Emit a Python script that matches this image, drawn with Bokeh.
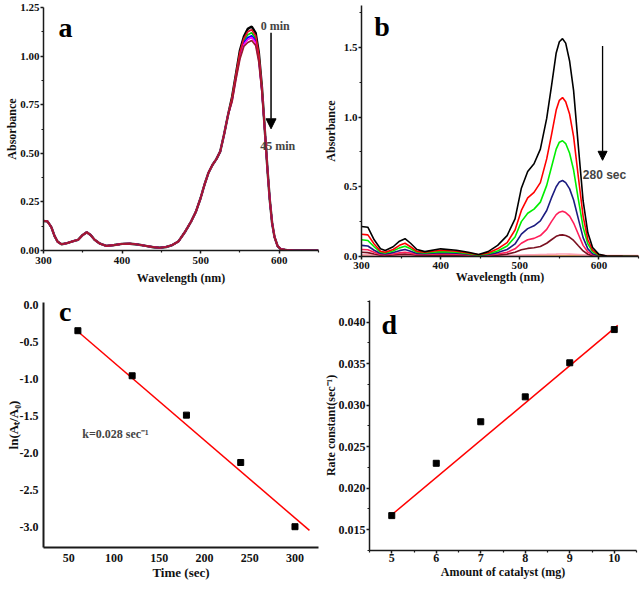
from bokeh.plotting import figure
from bokeh.layouts import column, row
from bokeh.models import FixedTicker, NumeralTickFormatter, Arrow, NormalHead, Range1d, Label
from bokeh.embed import file_html
from bokeh.resources import INLINE

SERIF = "Liberation Serif"

# ---------------- Panel a data ----------------
A_WL_LOW = [300, 305, 310, 314, 318, 323, 330, 338, 344, 350, 355, 360, 365, 372, 380, 390,
            400, 410, 420, 430, 440, 448, 456, 464, 472, 480, 488, 494, 500, 505, 510, 515,
            520, 525, 530, 535]
A_LOW = [0.152, 0.15, 0.12, 0.075, 0.045, 0.032, 0.038, 0.048, 0.055, 0.08, 0.094, 0.08,
         0.055, 0.035, 0.024, 0.028, 0.034, 0.035, 0.031, 0.024, 0.017, 0.014, 0.018, 0.028,
         0.048, 0.095, 0.15, 0.20, 0.27, 0.34, 0.40, 0.44, 0.47, 0.51, 0.60, 0.70]
A_WL_PEAK = [540, 545, 550, 555, 560, 565, 570, 574, 578]
A_PEAK_0 = [0.79, 0.91, 1.03, 1.10, 1.14, 1.152, 1.12, 1.02, 0.84]
A_PEAK_1 = [0.785, 0.905, 1.02, 1.09, 1.125, 1.135, 1.105, 1.01, 0.835]
A_PEAK_2 = [0.78, 0.90, 1.01, 1.08, 1.11, 1.12, 1.09, 1.00, 0.83]
A_PEAK_3 = [0.775, 0.895, 1.00, 1.07, 1.095, 1.105, 1.08, 0.99, 0.825]
A_PEAK_4 = [0.77, 0.89, 0.995, 1.06, 1.085, 1.095, 1.07, 0.98, 0.82]
A_PEAK_5 = [0.765, 0.88, 0.985, 1.05, 1.07, 1.08, 1.055, 0.97, 0.815]
A_WL_TAIL = [582, 585, 588, 591, 594, 598, 602, 610, 620, 650]
A_TAIL = [0.60, 0.42, 0.26, 0.14, 0.07, 0.022, 0.007, 0.002, 0.0, 0.0]
A_COLORS = ["#000000", "#00cc00", "#0000ff", "#ff00ff", "#e0102a", "#9b1b30"]

# ---------------- Panel b data ----------------
WL_B = [300, 308, 316, 324, 330, 340, 348, 355, 362, 370, 380, 400, 420, 435, 448, 460, 472,
        484, 494, 502, 510, 518, 526, 534, 540, 546, 550, 554, 558, 563, 568, 574, 580, 586,
        592, 600, 610, 630, 650]
B_0 = [0.215, 0.21, 0.12, 0.055, 0.043, 0.07, 0.11, 0.128, 0.095, 0.05, 0.035, 0.055, 0.045,
       0.03, 0.014, 0.035, 0.08, 0.15, 0.27, 0.49, 0.61, 0.665, 0.77, 0.99, 1.22, 1.46, 1.54,
       1.562, 1.53, 1.40, 1.19, 0.79, 0.40, 0.17, 0.065, 0.015, 0.004, 0.001, 0.0]
B_1 = [0.16, 0.155, 0.09, 0.038, 0.03, 0.05, 0.08, 0.095, 0.07, 0.037, 0.03, 0.045, 0.038,
       0.025, 0.012, 0.025, 0.055, 0.10, 0.19, 0.33, 0.42, 0.46, 0.53, 0.70, 0.87, 1.05, 1.12,
       1.14, 1.11, 1.02, 0.86, 0.57, 0.29, 0.12, 0.045, 0.012, 0.003, 0.001, 0.0]
B_2 = [0.12, 0.115, 0.07, 0.03, 0.025, 0.04, 0.062, 0.073, 0.055, 0.03, 0.025, 0.035, 0.03,
       0.02, 0.01, 0.02, 0.04, 0.075, 0.14, 0.25, 0.31, 0.34, 0.39, 0.51, 0.64, 0.77, 0.82,
       0.83, 0.81, 0.74, 0.62, 0.41, 0.21, 0.09, 0.033, 0.009, 0.002, 0.001, 0.0]
B_3 = [0.08, 0.075, 0.045, 0.021, 0.018, 0.028, 0.042, 0.05, 0.038, 0.022, 0.02, 0.028, 0.024,
       0.016, 0.008, 0.014, 0.028, 0.05, 0.09, 0.16, 0.20, 0.22, 0.255, 0.33, 0.42, 0.50,
       0.535, 0.545, 0.53, 0.485, 0.405, 0.27, 0.135, 0.055, 0.02, 0.006, 0.002, 0.001, 0.0]
B_4 = [0.05, 0.048, 0.03, 0.014, 0.012, 0.018, 0.026, 0.03, 0.024, 0.015, 0.014, 0.02, 0.017,
       0.012, 0.006, 0.01, 0.018, 0.03, 0.055, 0.095, 0.12, 0.13, 0.15, 0.195, 0.25, 0.30,
       0.318, 0.325, 0.315, 0.29, 0.24, 0.16, 0.08, 0.032, 0.012, 0.004, 0.001, 0.0, 0.0]
B_5 = [0.03, 0.028, 0.018, 0.009, 0.008, 0.011, 0.015, 0.017, 0.014, 0.009, 0.009, 0.012, 0.01,
       0.008, 0.004, 0.006, 0.01, 0.017, 0.03, 0.048, 0.058, 0.063, 0.072, 0.095, 0.12, 0.145,
       0.153, 0.155, 0.15, 0.138, 0.115, 0.077, 0.04, 0.016, 0.006, 0.002, 0.0, 0.0, 0.0]
B_6 = [0.012, 0.012, 0.01, 0.008, 0.007, 0.008, 0.009, 0.01, 0.009, 0.008, 0.007, 0.008, 0.008,
       0.007, 0.006, 0.006, 0.007, 0.008, 0.009, 0.011, 0.012, 0.013, 0.014, 0.015, 0.016,
       0.017, 0.018, 0.018, 0.018, 0.017, 0.016, 0.014, 0.012, 0.01, 0.009, 0.008, 0.007,
       0.006, 0.006]
B_7 = [0.004, 0.004, 0.004, 0.003, 0.003, 0.003, 0.003, 0.003, 0.003, 0.003, 0.003, 0.003,
       0.003, 0.003, 0.003, 0.003, 0.003, 0.003, 0.003, 0.003, 0.003, 0.003, 0.003, 0.003,
       0.004, 0.004, 0.004, 0.004, 0.004, 0.004, 0.004, 0.004, 0.004, 0.004, 0.004, 0.004,
       0.004, 0.004, 0.004]
B_COLORS = ["#000000", "#ff0000", "#00ee00", "#1c1c80", "#ff1f5a", "#7a1020", "#ffa0b4", "#ff9a3a"]

# ---------------- Panel c data ----------------
C_TIME = [60, 120, 180, 240, 300]
C_LN = [-0.35, -0.957, -1.487, -2.125, -2.99]
C_FIT_X = [60, 316]
C_FIT_Y = [-0.36, -3.04]

# ---------------- Panel d data ----------------
D_MG = [5, 6, 7, 8, 9, 10]
D_K = [0.0167, 0.0230, 0.0280, 0.0310, 0.0351, 0.0391]
D_FIT_X = [5, 10.08]
D_FIT_Y = [0.0168, 0.0396]


def style_axes(p, tick_size="11px", label_size="12px", line_w=1.5, ticks=True):
    p.outline_line_color = None
    p.xgrid.visible = False
    p.ygrid.visible = False
    for ax in list(p.xaxis) + list(p.yaxis):
        ax.axis_line_width = line_w
        ax.axis_line_color = "#1a1a1a"
        ax.major_label_text_font = SERIF
        ax.major_label_text_font_style = "bold"
        ax.major_label_text_font_size = tick_size
        ax.major_label_text_color = "#111111"
        ax.axis_label_text_font = SERIF
        ax.axis_label_text_font_style = "bold"
        ax.axis_label_text_font_size = label_size
        ax.axis_label_text_color = "#111111"
        ax.major_tick_in = 0
        ax.minor_tick_in = 0
        if ticks:
            ax.major_tick_out = 3
            ax.minor_tick_out = 2
            ax.major_tick_line_width = 1.5
            ax.minor_tick_line_width = 1.2
            ax.major_tick_line_color = "#1a1a1a"
            ax.minor_tick_line_color = "#1a1a1a"
        else:
            ax.major_tick_out = 0
            ax.minor_tick_out = 0
            ax.major_tick_line_color = None
            ax.minor_tick_line_color = None
        ax.major_label_standoff = 1


# ---------------- Panel a ----------------
pa = figure(width=320, height=290, x_range=Range1d(300, 650), y_range=Range1d(0, 1.25),
            output_backend="svg", toolbar_location=None,
            min_border_left=43, min_border_right=2, min_border_top=7, min_border_bottom=40,
            x_axis_label="Wavelength (nm)", y_axis_label="Absorbance")
style_axes(pa, tick_size="11px", label_size="12px")
pa.yaxis.axis_label_standoff = -2
pa.xaxis.major_label_standoff = 3
pa.xaxis.axis_label_standoff = 4
pa.xaxis.ticker = FixedTicker(ticks=[300, 400, 500, 600], minor_ticks=[350, 450, 550, 650])
pa.yaxis.ticker = FixedTicker(ticks=[0, 0.25, 0.5, 0.75, 1.0, 1.25],
                              minor_ticks=[0.125, 0.375, 0.625, 0.875, 1.125])
pa.yaxis.formatter = NumeralTickFormatter(format="0.00")
for peak, col in zip([A_PEAK_0, A_PEAK_2, A_PEAK_3, A_PEAK_4, A_PEAK_1, A_PEAK_5], A_COLORS):
    pa.line(A_WL_LOW + A_WL_PEAK + A_WL_TAIL, A_LOW + peak + A_TAIL, line_color=col,
            line_width=2.4 if col == "#000000" else 1.7)
pa.add_layout(Label(x=319, y=1.065, text="a", text_font=SERIF, text_font_style="bold",
                    text_font_size="28px", text_color="black"))
pa.add_layout(Label(x=595, y=1.157, text="0 min", text_font=SERIF, text_font_style="bold",
                    text_font_size="12px", text_align="center", text_baseline="middle"))
pa.add_layout(Label(x=598, y=0.535, text="45 min", text_font=SERIF, text_font_style="bold",
                    text_font_size="12px", text_align="center", text_baseline="middle"))
pa.add_layout(Arrow(end=NormalHead(size=10, fill_color="black", line_color="black"),
                    x_start=589.6, y_start=1.12, x_end=589.6, y_end=0.626,
                    line_width=1.5, line_color="black"))

# ---------------- Panel b ----------------
pb = figure(width=320, height=290, x_range=Range1d(300, 650), y_range=Range1d(0, 1.8),
            output_backend="svg", toolbar_location=None,
            min_border_left=40, min_border_right=2, min_border_top=5, min_border_bottom=34,
            x_axis_label="Wavelength (nm)", y_axis_label="Absorbance")
style_axes(pb, tick_size="11px", label_size="12px")
pb.yaxis.axis_label_standoff = 3
pb.xaxis.major_label_standoff = 2
pb.xaxis.axis_label_standoff = -2
pb.xaxis.ticker = FixedTicker(ticks=[300, 400, 500, 600], minor_ticks=[350, 450, 550, 650])
pb.yaxis.ticker = FixedTicker(ticks=[0, 0.5, 1.0, 1.5], minor_ticks=[0.25, 0.75, 1.25, 1.75])
pb.yaxis.formatter = NumeralTickFormatter(format="0.0")
for ys, col in zip([B_7, B_6, B_5, B_4, B_3, B_2, B_1, B_0], B_COLORS[::-1]):
    pb.line(WL_B, ys, line_color=col, line_width=1.6)
pb.add_layout(Label(x=316, y=1.536, text="b", text_font=SERIF, text_font_style="bold",
                    text_font_size="28px", text_color="black"))
pb.add_layout(Label(x=607, y=0.585, text="280 sec", text_font="Liberation Sans",
                    text_font_style="bold", text_font_size="12px", text_align="center",
                    text_baseline="middle"))
pb.add_layout(Arrow(end=NormalHead(size=9, fill_color="black", line_color="black"),
                    x_start=604.6, y_start=1.51, x_end=604.6, y_end=0.69,
                    line_width=1.3, line_color="black"))

# ---------------- Panel c ----------------
pc = figure(width=320, height=302, x_range=Range1d(22, 326), y_range=Range1d(-3.27, 0.03),
            output_backend="svg", toolbar_location=None,
            min_border_left=43, min_border_right=2, min_border_top=12, min_border_bottom=45,
            x_axis_label="Time (sec)", y_axis_label="ln(Aₜ/A₀)")
style_axes(pc, tick_size="12px", label_size="13px", line_w=2, ticks=False)
pc.xaxis.ticker = FixedTicker(ticks=[50, 100, 150, 200, 250, 300])
pc.yaxis.ticker = FixedTicker(ticks=[0, -0.5, -1.0, -1.5, -2.0, -2.5, -3.0])
pc.yaxis.formatter = NumeralTickFormatter(format="0.0")
pc.xaxis.major_label_standoff = 6
pc.xaxis.axis_label_standoff = 0
pc.yaxis.major_label_standoff = 5
pc.yaxis.axis_label_standoff = -4
pc.line(C_FIT_X, C_FIT_Y, line_color="#ff0000", line_width=1.5)
pc.scatter(C_TIME, C_LN, marker="square", size=6, fill_color="black", line_color="black")
pc.add_layout(Label(x=39, y=-0.306, text="c", text_font=SERIF, text_font_style="bold",
                    text_font_size="28px", text_color="black"))
pc.add_layout(Label(x=64.8, y=-1.833, text="k=0.028 sec⁻¹", text_font=SERIF,
                    text_font_style="bold", text_font_size="12px"))

# ---------------- Panel d ----------------
pd_ = figure(width=320, height=302, x_range=Range1d(4.5, 10.5), y_range=Range1d(0.0125, 0.0426),
             output_backend="svg", toolbar_location=None,
             min_border_left=49, min_border_right=4, min_border_top=10, min_border_bottom=42,
             x_axis_label="Amount of catalyst (mg)", y_axis_label="Rate constant(sec⁻¹)")
style_axes(pd_, tick_size="12px", label_size="12px")
pd_.xaxis.major_label_standoff = 0
pd_.xaxis.axis_label_standoff = 0
pd_.yaxis.axis_label_standoff = -2
pd_.xaxis.ticker = FixedTicker(ticks=[5, 6, 7, 8, 9, 10],
                               minor_ticks=[4.5, 5.5, 6.5, 7.5, 8.5, 9.5, 10.5])
pd_.yaxis.ticker = FixedTicker(ticks=[0.015, 0.020, 0.025, 0.030, 0.035, 0.040],
                               minor_ticks=[0.0125, 0.0175, 0.0225, 0.0275, 0.0325, 0.0375, 0.0425])
pd_.yaxis.formatter = NumeralTickFormatter(format="0.000")
pd_.line(D_FIT_X, D_FIT_Y, line_color="#ff0000", line_width=1.5)
pd_.scatter(D_MG, D_K, marker="square", size=6, fill_color="black", line_color="black")
pd_.add_layout(Label(x=4.77, y=0.0379, text="d", text_font=SERIF, text_font_style="bold",
                     text_font_size="28px", text_color="black"))

layout = column(row(column(pa), column(pb)), row(column(pc), column(pd_)))
open("out.html", "w").write(file_html(layout, INLINE))
